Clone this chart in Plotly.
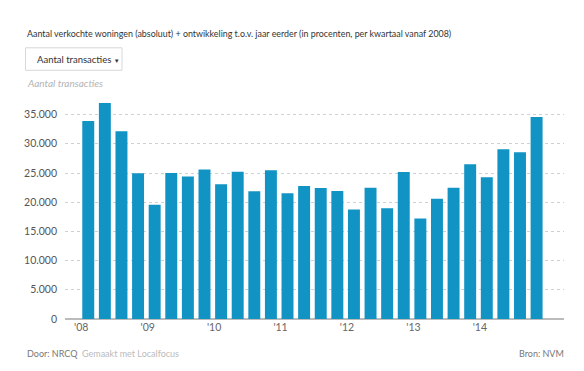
import plotly.graph_objects as go

quarters = [f"{y}Q{q}" for y in range(2008, 2015) for q in range(1, 5)]
transacties = [33900, 36980, 32130, 24940, 19580, 25000, 24380, 25580,
               23060, 25230, 21860, 25460, 21550, 22770, 22430, 21910,
               18730, 22490, 18950, 25170, 17190, 20610, 22490, 26480,
               24260, 29050, 28540, 34580]
tick_labels = ["'08", "'09", "'10", "'11", "'12", "'13", "'14"]
y_ticks = [0, 5000, 10000, 15000, 20000, 25000, 30000, 35000]

FONT = "Lato, 'Open Sans', sans-serif"
OFF = 8  # page body margin
W, H = 584 - 2 * OFF, 371 - 2 * OFF
L, R = 65 - OFF, 564 - OFF
T, B = 99.7 - OFF, 318.7 - OFF


def px(x):
    return (x - OFF - L) / (R - L)


def py(y):
    return (B - (y - OFF)) / (B - T)


x_idx = list(range(len(quarters)))
tick_pos = [4 * i - 0.42 for i in range(len(tick_labels))]

fig = go.Figure()
fig.add_trace(go.Bar(
    x=x_idx, y=transacties, marker_color="#1193c4", marker_line_width=0,
    width=0.72, customdata=quarters,
    hovertemplate="%{customdata}: %{y:,d}<extra></extra>",
))

fig.update_layout(
    width=W, height=H,
    margin=dict(l=L, r=W - R, t=T, b=H - B, pad=0),
    paper_bgcolor="white", plot_bgcolor="white",
    separators=",.",
    showlegend=False,
    font=dict(family=FONT, size=11, color="#555"),
    xaxis=dict(
        range=[-1.4, 28.65], tickmode="array", tickvals=tick_pos,
        ticktext=tick_labels, showgrid=False, zeroline=False,
        showline=False, ticks="", tickfont=dict(size=10.5, color="#666"),
        fixedrange=True,
    ),
    yaxis=dict(
        range=[0, 37500], tickmode="array", tickvals=y_ticks,
        tickformat=",d", showgrid=True, gridcolor="#d0d0d0",
        griddash="dot", gridwidth=1, zeroline=True, zerolinecolor="#bbb",
        zerolinewidth=1.5, showline=False, ticks="", ticklabelstandoff=7,
        tickfont=dict(size=10.5, color="#555"), fixedrange=True,
    ),
)

# title
fig.add_annotation(
    text="Aantal verkochte woningen (absoluut) + ontwikkeling t.o.v. jaar eerder (in procenten, per kwartaal vanaf 2008)",
    xref="paper", yref="paper", x=px(25), y=py(33),
    xanchor="left", yanchor="middle", showarrow=False,
    font=dict(family=FONT, size=8.9, color="#333"),
)
# dropdown-like button
fig.add_shape(
    type="rect", xref="paper", yref="paper",
    x0=px(25.5), x1=px(122), y0=py(70), y1=py(47.5),
    line=dict(color="#d8d8d8", width=1), fillcolor="white", layer="above",
)
fig.add_annotation(
    text="Aantal transacties <span style='font-size:6px'>\u25bc</span>",
    xref="paper", yref="paper", x=px(35), y=py(59),
    xanchor="left", yanchor="middle", showarrow=False,
    font=dict(family=FONT, size=9.5, color="#333"),
)
# subtitle
fig.add_annotation(
    text="<i>Aantal transacties</i>",
    xref="paper", yref="paper", x=px(25), y=py(83),
    xanchor="left", yanchor="middle", showarrow=False,
    font=dict(family=FONT, size=10, color="#b4b4b4"),
)
# footer
fig.add_annotation(
    text="Door: NRCQ  <span style='color:#bbb'>Gemaakt met Localfocus</span>",
    xref="paper", yref="paper", x=px(25), y=py(353),
    xanchor="left", yanchor="middle", showarrow=False,
    font=dict(family=FONT, size=9, color="#777"),
)
fig.add_annotation(
    text="Bron: NVM",
    xref="paper", yref="paper", x=px(566), y=py(353),
    xanchor="right", yanchor="middle", showarrow=False,
    font=dict(family=FONT, size=9, color="#777"),
)

fig.write_html("out.html", config={"displayModeBar": False})
